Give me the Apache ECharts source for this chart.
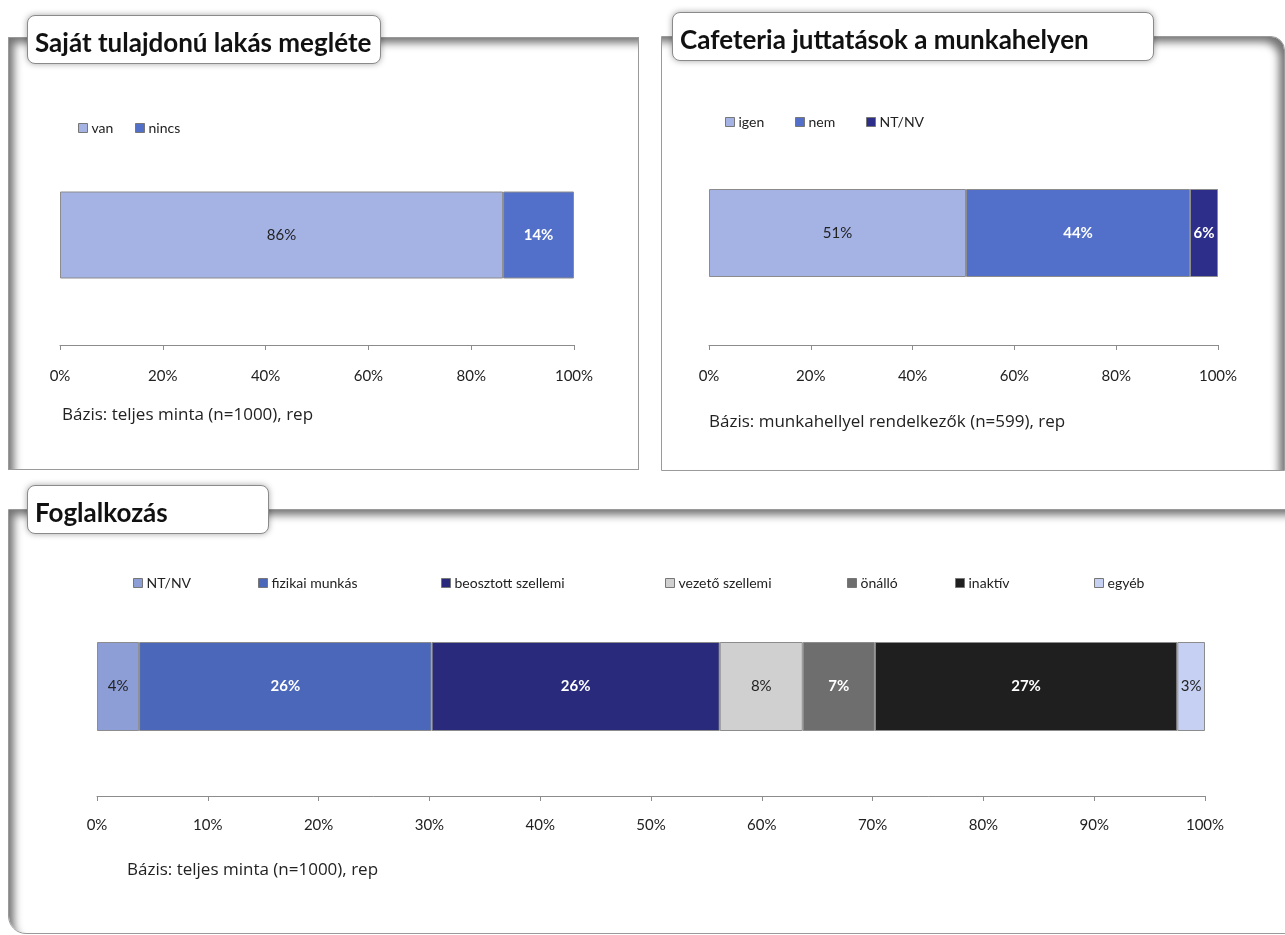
<!DOCTYPE html>
<html>
<head>
<meta charset="utf-8">
<script src="https://cdn.jsdelivr.net/npm/echarts@6/dist/echarts.min.js"></script>
<style>
  html, body { margin: 0; padding: 0; background: #fff; }
  body { width: 1285px; height: 935px; position: relative; overflow: hidden; font-family: Lato, sans-serif; }
  .frame { position: absolute; background: #fff; border: 1px solid #9a9a9a; box-sizing: border-box; }
  .f1 { left: 8px; top: 37px; width: 631px; height: 433px; box-shadow: inset 8px 8px 8px -3px rgba(0,0,0,0.55); }
  .f2 { left: 661px; top: 36px; width: 624px; height: 435px; border-top-right-radius: 14px; box-shadow: inset -8px 8px 8px -3px rgba(0,0,0,0.55); }
  .f3 { left: 8px; top: 509px; width: 1290px; height: 425px; border-bottom-left-radius: 18px; box-shadow: inset 8px 8px 8px -3px rgba(0,0,0,0.55); }
  .chart { position: absolute; left: 0; top: 0; width: 1285px; height: 935px; }
  .ttl { position: absolute; background: #fff; border: 1px solid #8a8a8a; border-radius: 8px; box-sizing: border-box;
         box-shadow: 0 0 6px rgba(0,0,0,0.35); font-weight: bold; font-size: 26px; color: #111; padding-left: 7px;
         line-height: 52px; z-index: 10; white-space: nowrap; overflow: hidden; }
</style>
</head>
<body>
<div class="frame f1"></div>
<div class="frame f2"></div>
<div class="frame f3"></div>
<div class="chart" id="c1"></div>
<div class="chart" id="c2"></div>
<div class="chart" id="c3"></div>
<div class="ttl" style="left:27px;top:15px;width:354px;height:49px;">Saját tulajdonú lakás megléte</div>
<div class="ttl" style="left:672px;top:12px;width:482px;height:49px;">Cafeteria juttatások a munkahelyen</div>
<div class="ttl" style="left:27px;top:485px;width:242px;height:49px;">Foglalkozás</div>

<script>
// lakás
const ownCats = ['van', 'nincs'];
const ownVals = [86.2, 13.8];
// cafeteria
const cafCats = ['igen', 'nem', 'NT/NV'];
const cafVals = [50.5, 44.0, 5.5];
// foglalkozás
const jobCats = ['NT/NV', 'fizikai munkás', 'beosztott szellemi', 'vezető szellemi', 'önálló', 'inaktív', 'egyéb'];
const jobVals = [3.8, 26.4, 26.0, 7.5, 6.5, 27.3, 2.5];

const ownColors = ['#a4b2e4', '#5270c9'];
const cafColors = ['#a4b2e4', '#5270c9', '#2d2d8a'];
const jobColors = ['#8d9dd6', '#4b67b9', '#292a7c', '#d0d0d0', '#6e6e6e', '#1f1f1f', '#c6d0f2'];
const whiteLabel = {
  own: [false, true],
  caf: [false, true, true],
  job: [false, true, true, false, true, true, false]
};

const FONT = 'Lato, sans-serif';

function legends(names, xs, y) {
  return names.map((n, i) => ({
    data: [n],
    left: xs[i],
    top: y - 8,
    padding: 0,
    icon: 'rect',
    itemWidth: 9,
    itemHeight: 9,
    itemGap: 4,
    selectedMode: false,
    itemStyle: { borderColor: '#777', borderWidth: 1 },
    textStyle: { fontFamily: FONT, fontSize: 14, color: '#222', padding: [0, 0, 0, -1] }
  }));
}

function makeSeries(names, vals, colors, white, barW) {
  return names.map((n, i) => ({
    name: n,
    type: 'bar',
    stack: 'all',
    barWidth: barW,
    data: [vals[i]],
    itemStyle: { color: colors[i], borderColor: '#8c8c8c', borderWidth: 1 },
    label: {
      show: true,
      position: 'inside',
      formatter: (p) => Math.round(p.value) + '%',
      fontFamily: FONT,
      fontSize: 15,
      color: white[i] ? '#fff' : '#222',
      fontWeight: white[i] ? 'bold' : 'normal'
    }
  }));
}

function xAxis(step, margin) {
  return {
    type: 'value', min: 0, max: 100, interval: step,
    axisLine: { show: true, lineStyle: { color: '#8c8c8c', width: 1 } },
    axisTick: { show: true, length: 5, lineStyle: { color: '#8c8c8c' } },
    splitLine: { show: false },
    axisLabel: { formatter: '{value}%', fontFamily: FONT, fontSize: 15, color: '#222', margin: margin }
  };
}

function note(text, x, y) {
  return {
    type: 'text', left: x, top: y,
    style: { text: text, fontFamily: '"Open Sans", sans-serif', fontSize: 17, fill: '#222' }
  };
}

const c1 = echarts.init(document.getElementById('c1'));
c1.setOption({
  animation: false,
  legend: legends(ownCats, [78, 135], 129),
  grid: { left: 60, width: 514, top: 125, height: 220 },
  xAxis: xAxis(20, 24),
  yAxis: { type: 'category', data: [''], show: false },
  series: makeSeries(ownCats, ownVals, ownColors, whiteLabel.own, 87),
  graphic: [note('Bázis: teljes minta (n=1000), rep', 62, 407)]
});

const c2 = echarts.init(document.getElementById('c2'));
c2.setOption({
  animation: false,
  legend: legends(cafCats, [725, 795, 866], 123),
  grid: { left: 709, width: 509, top: 121, height: 224 },
  xAxis: xAxis(20, 24),
  yAxis: { type: 'category', data: [''], show: false },
  series: makeSeries(cafCats, cafVals, cafColors, whiteLabel.caf, 88),
  graphic: [note('Bázis: munkahellyel rendelkezők (n=599), rep', 709, 414)]
});

const c3 = echarts.init(document.getElementById('c3'));
c3.setOption({
  animation: false,
  legend: legends(jobCats, [133, 258, 441, 665, 847, 955, 1094], 584),
  grid: { left: 97, width: 1108, top: 577, height: 219 },
  xAxis: xAxis(10, 22),
  yAxis: { type: 'category', data: [''], show: false },
  series: makeSeries(jobCats, jobVals, jobColors, whiteLabel.job, 89),
  graphic: [note('Bázis: teljes minta (n=1000), rep', 127, 862)]
});
</script>
</body>
</html>
